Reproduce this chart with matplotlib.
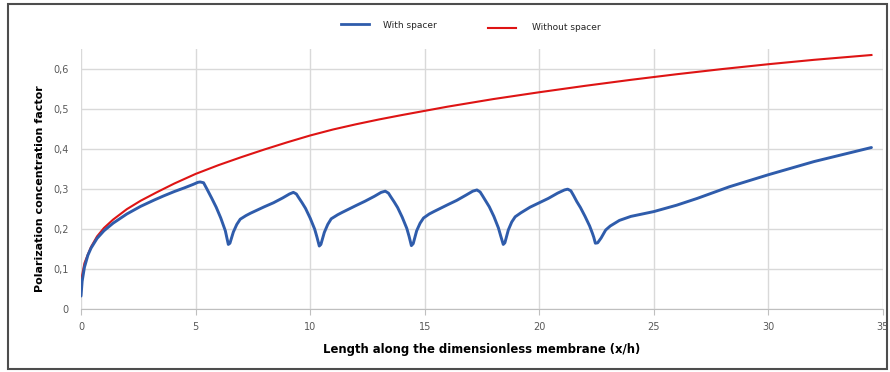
import numpy as np
import matplotlib.pyplot as plt
from matplotlib.lines import Line2D
from matplotlib.patches import Rectangle

# values
x_without = [0, 0.05, 0.15, 0.3, 0.44, 0.7, 1.0, 1.4, 2.0, 2.6, 3.3, 4.07, 5, 6, 7, 8, 9,
             10, 11, 12, 13, 14, 16, 18, 20, 22, 24, 26, 28, 30, 32, 34.5]
y_without = [0.057, 0.085, 0.115, 0.137, 0.156, 0.182, 0.203, 0.224, 0.250, 0.271, 0.292,
             0.314, 0.338, 0.360, 0.380, 0.399, 0.417, 0.434, 0.449, 0.462, 0.474, 0.485,
             0.506, 0.525, 0.542, 0.558, 0.573, 0.587, 0.600, 0.612, 0.623, 0.635]

x_with = [0, 0.05, 0.15, 0.3, 0.44, 0.7, 1.0, 1.4, 2.0, 2.6, 3.2, 3.6, 4.07, 4.5, 4.9, 5.1,
          5.2, 5.35, 5.5, 5.7, 5.9, 6.1, 6.3, 6.38, 6.43, 6.5, 6.65, 6.8, 6.95, 7.2, 7.4,
          8.0, 8.4, 8.8, 9.1, 9.27, 9.4, 9.5, 9.65, 9.8, 10.0, 10.2, 10.3, 10.4,
          10.47, 10.62, 10.77, 10.92, 11.2, 11.4, 12.0, 12.4, 12.8, 13.1, 13.28, 13.42,
          13.52, 13.67, 13.82, 14.02, 14.22, 14.32, 14.42,
          14.5, 14.65, 14.8, 14.95, 15.2, 15.4, 16.0, 16.4, 16.8, 17.1, 17.28, 17.42,
          17.52, 17.67, 17.82, 18.02, 18.22, 18.32, 18.43,
          18.5, 18.65, 18.8, 18.95, 19.2, 19.6, 20.0, 20.4, 20.8, 21.1, 21.24, 21.38,
          21.5, 21.64, 21.8, 22.0, 22.2, 22.32, 22.38, 22.45,
          22.55, 22.7, 22.9, 23.1, 23.5, 24.0, 25.0, 26.0, 26.9, 28.3, 30.0, 32.0, 34.5]
y_with = [0.033, 0.07, 0.105, 0.135, 0.153, 0.177, 0.196, 0.215, 0.238, 0.257, 0.273, 0.283,
          0.294, 0.303, 0.312, 0.317,
          0.318, 0.316, 0.300, 0.278, 0.255, 0.228, 0.196, 0.175, 0.162, 0.165, 0.193,
          0.212, 0.225, 0.234, 0.240,
          0.256, 0.266, 0.278, 0.288, 0.292, 0.288, 0.279, 0.266, 0.252, 0.228, 0.200,
          0.180, 0.158,
          0.162, 0.192, 0.212, 0.226, 0.236, 0.242, 0.259, 0.270, 0.282, 0.292, 0.295,
          0.290, 0.281, 0.268, 0.254, 0.230, 0.202, 0.182, 0.159,
          0.164, 0.196, 0.215, 0.228, 0.238, 0.244, 0.261, 0.272, 0.285, 0.295, 0.298,
          0.293, 0.284, 0.270, 0.256, 0.232, 0.203, 0.183, 0.162,
          0.166, 0.198, 0.218, 0.231, 0.241, 0.255, 0.266, 0.277, 0.290, 0.298, 0.300,
          0.296, 0.284, 0.269, 0.254, 0.232, 0.208, 0.190, 0.180, 0.165,
          0.166, 0.178, 0.198, 0.208, 0.222, 0.232, 0.244, 0.260, 0.277, 0.306, 0.336,
          0.369, 0.404]

x_ticks = [0, 5, 10, 15, 20, 25, 30, 35]
y_ticks = [0, 0.1, 0.2, 0.3, 0.4, 0.5, 0.6]
y_tick_labels = ['0', '0,1', '0,2', '0,3', '0,4', '0,5', '0,6']

blue = '#2f5cab'
red = '#de1414'
grid = '#d9d9d9'

plt.rcParams['font.family'] = ['DejaVu Sans']

fig = plt.figure(figsize=(8.9, 3.72), dpi=100)
ax = fig.add_axes([81 / 890, 1 - 309.3 / 372, (882.9 - 81) / 890, (309.3 - 49) / 372])

ax.plot(x_without, y_without, color=red, lw=1.5, zorder=3)
ax.plot(x_with, y_with, color=blue, lw=2.1, zorder=4, solid_capstyle='round')

ax.set_xlim(0, 35)
ax.set_ylim(0, 0.65)
ax.set_xticks(x_ticks)
ax.set_yticks(y_ticks)
ax.set_yticklabels(y_tick_labels)
ax.grid(True, color=grid, lw=1)
ax.set_axisbelow(True)
for s in ['top', 'right', 'left']:
    ax.spines[s].set_visible(False)
ax.spines['bottom'].set_color('#bfbfbf')
ax.tick_params(axis='y', length=0, pad=9, labelsize=7, labelcolor='#595959')
ax.tick_params(axis='x', length=4, color='#bfbfbf', pad=5, labelsize=7, labelcolor='#595959')

ax.set_xlabel('Length along the dimensionless membrane (x/h)', fontsize=8.4, fontweight='bold',
              labelpad=8)
ax.set_ylabel('Polarization concentration factor', fontsize=8, fontweight='bold')
ax.yaxis.set_label_coords(-0.045, 0.462)

# legend drawn in figure coordinates
fig.add_artist(Line2D([341 / 890, 369 / 890], [1 - 24 / 372] * 2, color=blue, lw=2.0))
fig.text(383 / 890, 1 - 25 / 372, 'With spacer', fontsize=6.5, va='center', color='#262626')
fig.add_artist(Line2D([488 / 890, 516 / 890], [1 - 28 / 372] * 2, color=red, lw=1.5))
fig.text(532 / 890, 1 - 28 / 372, 'Without spacer', fontsize=6.5, va='center', color='#262626')

# outer frame
fig.add_artist(Rectangle((8 / 890, 3 / 372), 879 / 890, 365 / 372, fill=False,
                         edgecolor='#4d4d4d', lw=1.5, transform=fig.transFigure))

fig.savefig('out.png', dpi=100)
